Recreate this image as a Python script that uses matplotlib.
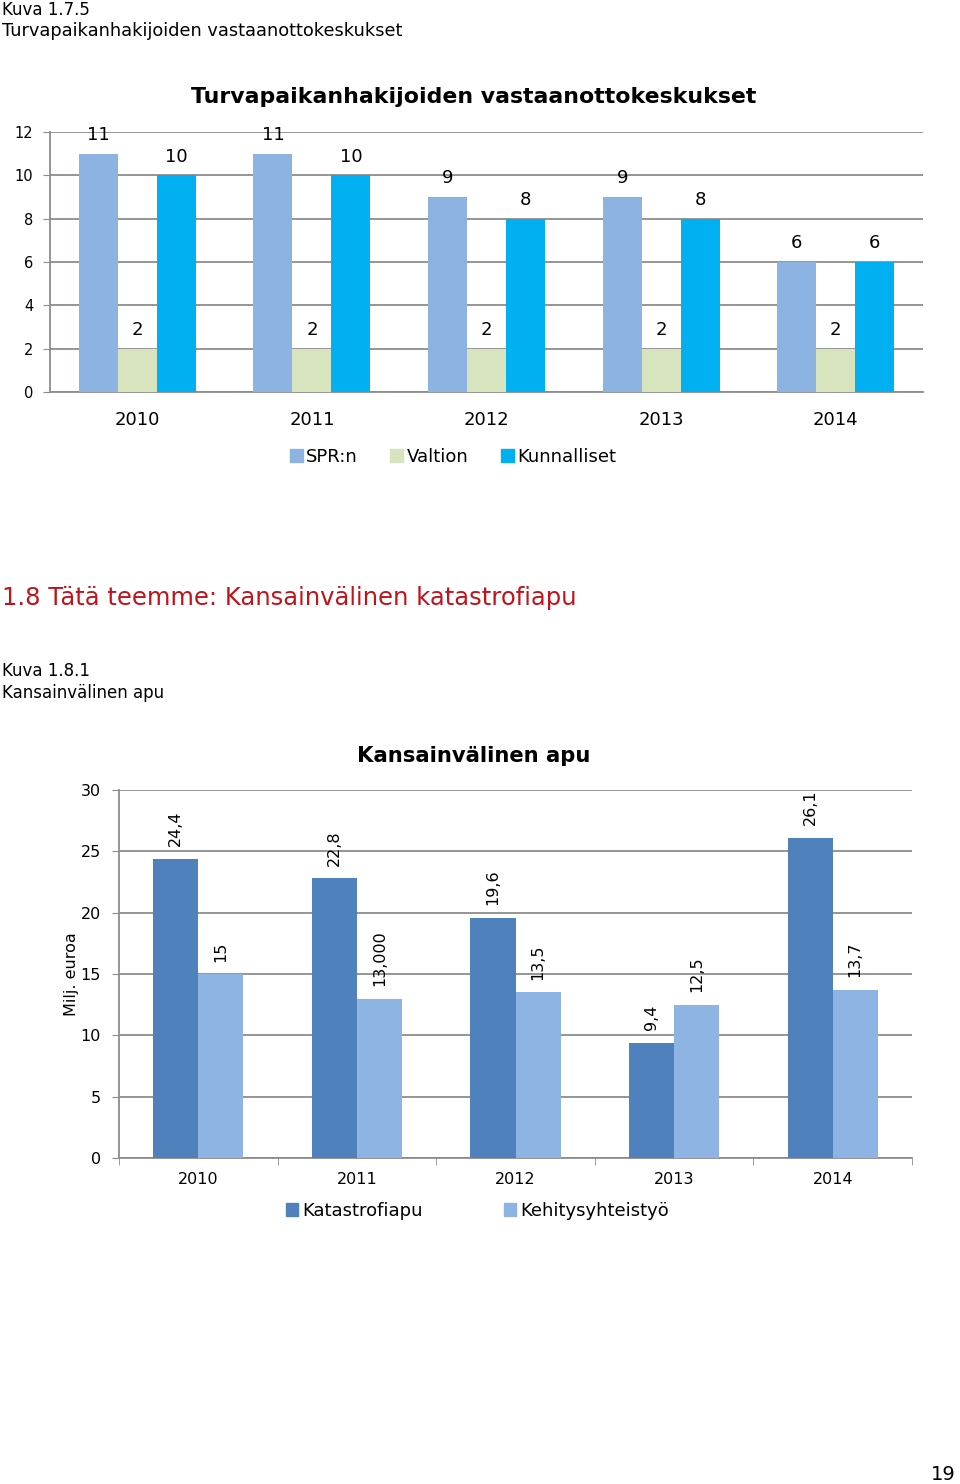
import numpy as np
import matplotlib.pyplot as plt
from matplotlib.patches import Patch

plt.rcParams['font.family'] = ['DejaVu Sans']

# data: reception centres
years = ['2010', '2011', '2012', '2013', '2014']
spr = [11, 11, 9, 9, 6]
valtion = [2, 2, 2, 2, 2]
kunnalliset = [10, 10, 8, 8, 6]

# data: international aid (million euro)
katastrofiapu = [24.4, 22.8, 19.6, 9.4, 26.1]
kehitys = [15, 13.0, 13.5, 12.5, 13.7]
katastrofi_labels = ['24,4', '22,8', '19,6', '9,4', '26,1']
kehitys_labels = ['15', '13,000', '13,5', '12,5', '13,7']

grid_col = '#8c8c8c'
fig = plt.figure(figsize=(9.6, 14.84), dpi=100)

# page texts
fig.text(0.002, 1 - 10/1484, 'Kuva 1.7.5', fontsize=12, va='center')
fig.text(0.002, 1 - 31/1484, 'Turvapaikanhakijoiden vastaanottokeskukset', fontsize=12.8, va='center')
fig.text(0.002, 1 - 598/1484, '1.8 Tätä teemme: Kansainvälinen katastrofiapu', fontsize=17.5,
         color='#c0141c', va='center')
fig.text(0.002, 1 - 671/1484, 'Kuva 1.8.1', fontsize=12, va='center')
fig.text(0.002, 1 - 693/1484, 'Kansainvälinen apu', fontsize=12, va='center')
fig.text(0.995, 1 - 1474/1484, '19', fontsize=14, ha='right', va='center')

# chart 1
ax1 = fig.add_axes([50/960, 1 - 392/1484, 873/960, 260/1484])
x = np.arange(len(years))
w = 0.223
b1 = ax1.bar(x - w, spr, w, color='#8db3e2', zorder=3)
b2 = ax1.bar(x, valtion, w, color='#d7e4bd', zorder=3)
b3 = ax1.bar(x + w, kunnalliset, w, color='#00b0f0', zorder=3)
for bars in (b1, b2, b3):
    ax1.bar_label(bars, padding=7, fontsize=13)
ax1.set_xlim(-0.5, 4.5)
ax1.set_ylim(0, 12)
ax1.set_yticks(range(0, 13, 2))
ax1.set_xticks(x, years)
ax1.grid(axis='y', color=grid_col, linewidth=1.3, zorder=0)
for s in ['top', 'right']:
    ax1.spines[s].set_visible(False)
for s in ['left', 'bottom']:
    ax1.spines[s].set_color(grid_col)
    ax1.spines[s].set_linewidth(1.3)
ax1.tick_params(axis='y', labelsize=10.5, length=5, color=grid_col, pad=7)
ax1.tick_params(axis='x', labelsize=13, length=0, pad=14)
ax1.set_title('Turvapaikanhakijoiden vastaanottokeskukset', fontsize=15.8, fontweight='bold',
              pad=21, x=0.485)
fig.legend(handles=[Patch(color='#8db3e2', label='SPR:n'),
                    Patch(color='#d7e4bd', label='Valtion'),
                    Patch(color='#00b0f0', label='Kunnalliset')],
           loc='center', bbox_to_anchor=(453/960, 1 - 457/1484), ncol=3, frameon=False,
           fontsize=13, handlelength=0.7, handleheight=0.7, handletextpad=0.2, columnspacing=1.8)

# chart 2
ax2 = fig.add_axes([119/960, 1 - 1158/1484, 793/960, 368/1484])
w2 = 0.284
c1 = ax2.bar(x - w2/2, katastrofiapu, w2, color='#4f81bd', zorder=3)
c2 = ax2.bar(x + w2/2, kehitys, w2, color='#8eb4e3', zorder=3)
ax2.bar_label(c1, labels=katastrofi_labels, padding=9, rotation=90, fontsize=11.5)
ax2.bar_label(c2, labels=kehitys_labels, padding=9, rotation=90, fontsize=11.5)
ax2.set_xlim(-0.5, 4.5)
ax2.set_ylim(0, 30)
ax2.set_yticks(range(0, 31, 5))
ax2.set_xticks(x, years)
ax2.set_xticks(np.arange(-0.5, 5, 1), minor=True)
ax2.grid(axis='y', color=grid_col, linewidth=1.3, zorder=0)
for s in ['top', 'right']:
    ax2.spines[s].set_visible(False)
for s in ['left', 'bottom']:
    ax2.spines[s].set_color(grid_col)
    ax2.spines[s].set_linewidth(1.3)
ax2.tick_params(axis='y', labelsize=11.5, length=5, color=grid_col, pad=8)
ax2.tick_params(axis='x', which='major', labelsize=11.5, length=0, pad=10)
ax2.tick_params(axis='x', which='minor', length=5, color=grid_col)
ax2.set_ylabel('Milj. euroa', fontsize=11.5, labelpad=1)
ax2.set_title('Kansainvälinen apu', fontsize=15.2, fontweight='bold', pad=20, x=0.447)
fig.legend(handles=[Patch(color='#4f81bd', label='Katastrofiapu'),
                    Patch(color='#8eb4e3', label='Kehitysyhteistyö')],
           loc='center', bbox_to_anchor=(477/960, 1 - 1211/1484), ncol=2, frameon=False,
           fontsize=13, handlelength=0.7, handleheight=0.7, handletextpad=0.2, columnspacing=4.5)

fig.savefig('out.png', dpi=100)
